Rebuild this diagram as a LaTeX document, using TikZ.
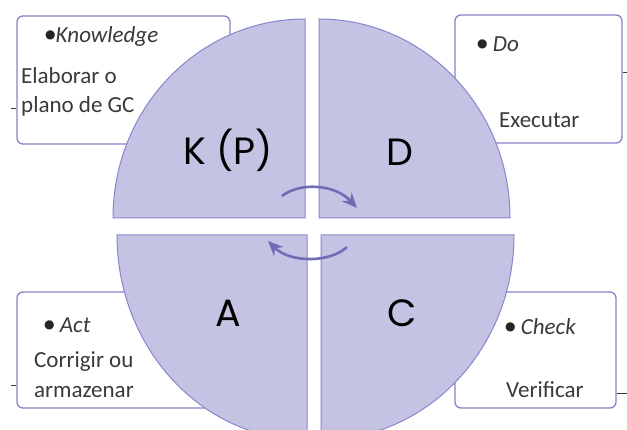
\documentclass[tikz,border=0pt]{standalone}
\usepackage{fontspec}
\setmainfont{Carlito}
\newfontfamily\bigfont{Poppins}
\newfontfamily\symfont{DejaVu Sans}
\usetikzlibrary{arrows.meta}
\definecolor{lilac}{HTML}{C5C3E3}
\definecolor{lilacline}{HTML}{8886CC}
\definecolor{arrowcol}{HTML}{6F6DB8}
\definecolor{boxline}{HTML}{8583C8}
\definecolor{txt}{HTML}{3A3A3A}
\newcommand{\dotmark}{\raisebox{4.5pt}{\symfont\fontsize{12}{12}\selectfont\color{black!85}●}}

\begin{document}
\begin{tikzpicture}[x=1pt,y=-1pt,
  box/.style={draw=boxline,line width=1.3pt,rounded corners=6pt,fill=white,inner sep=0pt},
  quad/.style={draw=lilacline,line width=1pt,fill=lilac},
  lbl/.style={text=txt,font=\fontsize{23}{25}\selectfont,anchor=base west,inner sep=0pt},
  big/.style={font=\bigfont\fontsize{38}{40}\selectfont,inner sep=0pt},
  cyc/.style={draw=arrowcol,line width=2.6pt,-{Stealth[length=15pt,width=13pt]}},
  tick/.style={draw=txt,line width=0.8pt}]
\useasboundingbox (0,0) rectangle (627,430);
\clip (0,0) rectangle (627,430);

\node[box,minimum width=213pt,minimum height=128pt] (know) at (123.5,80) {};
\node[box,minimum width=167pt,minimum height=128pt] (do) at (538.5,79) {};
\node[box,minimum width=213pt,minimum height=116pt] (act) at (123.5,350) {};
\node[box,minimum width=161pt,minimum height=116pt] (check) at (535.5,350) {};
\draw[tick] (know.west) ++(0,28) -- ++(-5,0);
\draw[tick] (do.east) ++(0,-7) -- ++(5,0);
\draw[tick] (act.west) ++(0,35) -- ++(-5,0);
\draw[tick] (check.east) ++(0,43) -- ++(11,0);

\draw[quad] (305,218) -- ++(-192,0) arc[start angle=180,end angle=270,x radius=192,y radius=199] -- cycle;
\draw[quad] (319,218) -- ++(0,-199) arc[start angle=270,end angle=360,x radius=191,y radius=199] -- cycle;
\draw[quad] (307,235) -- ++(-190,0) arc[start angle=180,end angle=90,x radius=190,y radius=205] -- cycle;
\draw[quad] (321,235) -- ++(193,0) arc[start angle=0,end angle=90,x radius=193,y radius=205] -- cycle;

\node[lbl] (knowt) at (45,43) {\dotmark\textit{Knowledge}};
\node[lbl] (knowa) at (21,84) {Elaborar o};
\node[lbl] (knowb) at (21,113) {plano de GC};
\node[lbl] (dot) at (477,52) {\dotmark\ \textit{Do}};
\node[lbl] (doa) at (499,128) {Executar};
\node[lbl] (actt) at (44,333) {\dotmark\ \textit{Act}};
\node[lbl] (acta) at (34,368) {Corrigir ou};
\node[lbl] (actb) at (34,398) {armazenar};
\node[lbl] (checkt) at (505,335) {\dotmark\ \textit{Check}};
\node[lbl] (checka) at (506,398) {Verificar};

\node[big] (kp) at (228,150) {K (P)};
\node[big] (dl) at (400,152) {D};
\node[big] (al) at (228,313) {A};
\node[big] (cl) at (402,313) {C};

\coordinate (kd1) at (282,196);
\coordinate (kd2) at (357,208);
\coordinate (ca1) at (347,247);
\coordinate (ca2) at (268,241);
\draw[cyc] (kd1) .. controls (300,182) and (335,184) .. (kd2);
\draw[cyc] (ca1) .. controls (330,263) and (290,263) .. (ca2);
\end{tikzpicture}
\end{document}
